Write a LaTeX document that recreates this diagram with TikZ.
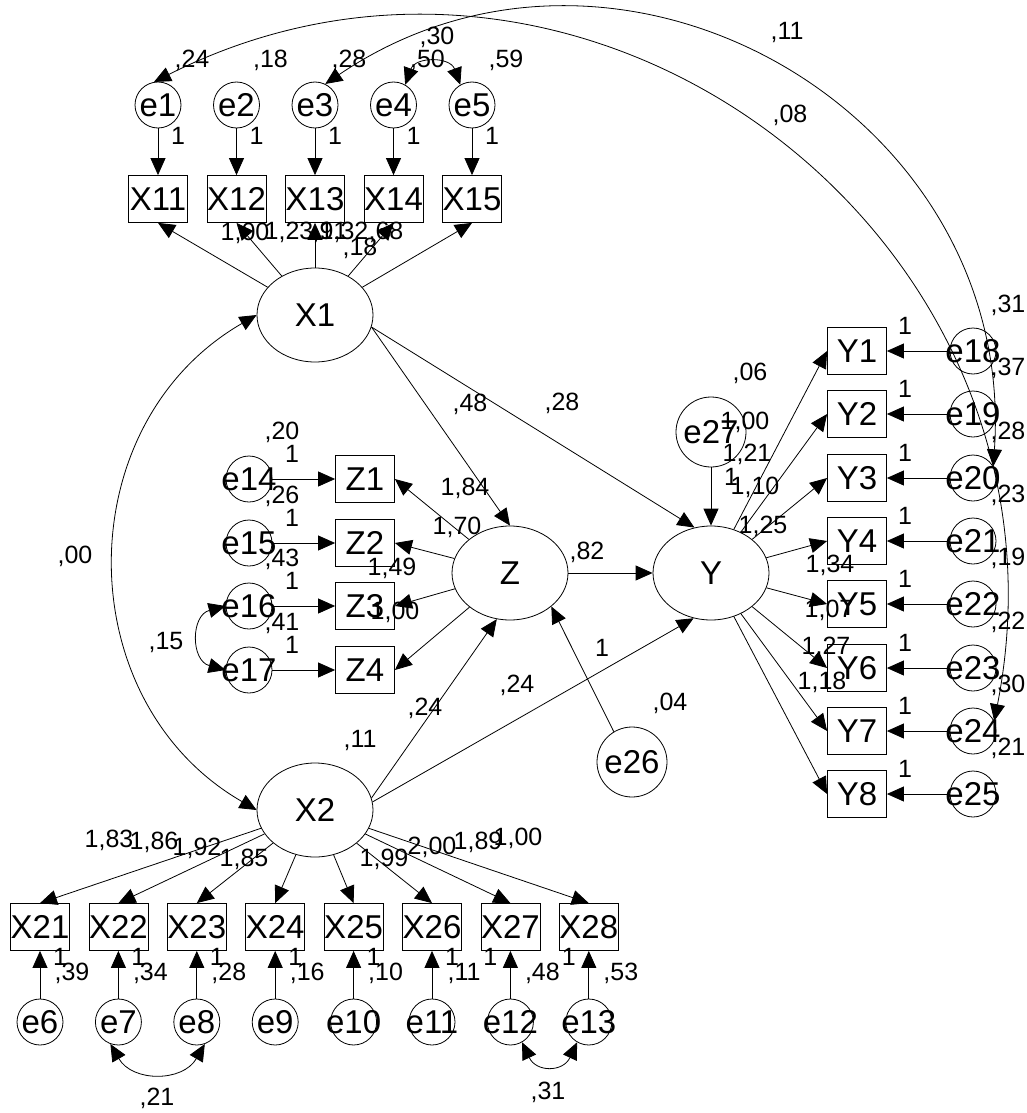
\documentclass[tikz,border=0pt]{standalone}
\usepackage{fontspec}
\setmainfont{Liberation Sans}
\usetikzlibrary{positioning,arrows.meta,shapes.geometric}
\newcommand\nodefont{\fontsize{33}{37}\selectfont}
\newcommand\labfont{\fontsize{25}{28}\selectfont}
\tikzset{
  obs/.style={rectangle,draw,minimum width=59pt,minimum height=47pt,inner sep=0pt,font=\nodefont},
  lat/.style={ellipse,draw,minimum width=116pt,minimum height=94pt,inner sep=0pt,font=\nodefont},
  err/.style={circle,draw,minimum size=46pt,inner sep=0pt,
    label={[font=\nodefont,inner sep=0pt]center:#1}},
  disturb/.style={circle,draw,minimum size=70pt,inner sep=0pt,font=\nodefont},
  reg/.style={-{Triangle[length=17pt,width=15pt]},line width=0.8pt},
  cov/.style={{Triangle[length=17pt,width=15pt]}-{Triangle[length=17pt,width=15pt]},line width=0.8pt},
  lab/.style={font=\labfont,inner sep=0pt},
}

\begin{document}
\begin{tikzpicture}[x=1pt,y=1pt,line width=0.8pt]
  \useasboundingbox (0,0) rectangle (1027,-1113);
  % latent variables and disturbances
  \node[lat] (X1) at (315,-315) {X1};
  \node[lat] (X2) at (315,-810) {X2};
  \node[lat] (Z) at (510,-573) {Z};
  \node[lat] (Y) at (711,-573) {Y};
  \node[disturb] (e26) at (632,-762) {e26};
  \node[disturb] (e27) at (711,-432) {e27};

  % X1 indicators
  \foreach \k/\x/\v in {1/158/{,24},2/236.5/{,18},3/315/{,28},4/393.5/{,50},5/472/{,59}}{
    \node[obs] (X1\k) at (\x,-199) {X1\k};
    \node[err=e\k] (e\k) at (\x,-105) {};
    \draw[reg] (e\k) -- (X1\k);
    \draw[reg] (X1) -- (X1\k.south);
    \node[lab] (o\k) at (\x+20,-136) {1};
    \node[lab] (v\k) at (\x+34,-60) {\v};
  }

  % X2 indicators
  \foreach \k/\x/\o/\v in {1/40/20/{,39},2/118.4/20/{,34},3/196.8/20/{,28},4/275.2/20/{,16},
      5/353.6/20/{,10},6/432/20/{,11},7/510.4/-20/{,48},8/588.8/-20/{,53}}{
    \pgfmathtruncatemacro{\e}{\k+5}
    \node[obs] (X2\k) at (\x,-927) {X2\k};
    \node[err=e\e] (e\e) at (\x,-1022) {};
    \draw[reg] (e\e) -- (X2\k);
    \draw[reg] (X2) -- (X2\k.north);
    \node[lab] (o\e) at (\x+\o,-957) {1};
    \node[lab] (v\e) at (\x+32,-973) {\v};
  }

  % Z indicators
  \foreach \k/\y/\v in {1/479/{,20},2/543/{,26},3/606/{,43},4/670/{,41}}{
    \pgfmathtruncatemacro{\e}{\k+13}
    \node[obs] (Z\k) at (365,-\y) {Z\k};
    \node[err=e\e] (e\e) at (249,-\y) {};
    \draw[reg] (e\e) -- (Z\k);
    \draw[reg] (Z) -- (Z\k.east);
    \node[lab] (o\e) at (292,-\y+25) {1};
    \node[lab] (v\e) at (282,-\y+47) {\v};
  }

  % Y indicators
  \foreach \k/\y/\v in {1/351/{,31},2/414/{,37},3/478/{,28},4/541/{,23},
      5/604/{,19},6/668/{,22},7/731/{,30},8/794/{,21}}{
    \pgfmathtruncatemacro{\e}{\k+17}
    \node[obs] (Y\k) at (857,-\y) {Y\k};
    \node[err=e\e] (e\e) at (973,-\y) {};
    \draw[reg] (e\e) -- (Y\k);
    \draw[reg] (Y) -- (Y\k.west);
    \node[lab] (o\e) at (905,-\y+25) {1};
    \node[lab] (v\e) at (1008,-\y+46) {\v};
  }

  % structural paths
  \draw[reg] (X1.-12) -- (Z.north);
  \draw[reg] (X1.-12) -- (Y.110);
  \draw[reg] (X2.12) -- (Z.-106);
  \draw[reg] (X2.8) -- (Y.-111);
  \draw[reg] (Z) -- (Y);
  \draw[reg] (e27) -- (Y);
  \draw[reg] (e26.121) -- (Z.-39);

  % covariances
  \draw[cov] (X1.west) to[bend right=60,looseness=1.13] (X2.west);
  \draw[cov] (e16.west) to[bend right=75,looseness=1.45] (e17.west);
  \draw[cov] (e4.60) to[bend left=70,looseness=1.4] (e5.120);
  \draw[cov] (e7.250) to[bend right=60,looseness=1.2] (e8.290);
  \draw[cov] (e12.-60) to[bend right=65,looseness=1.55] (e13.-120);
  \draw[cov] (e1.100) to[out=26.7,in=78.9,looseness=1.183] (e24.25);
  \draw[cov] (e3.64) to[out=34.1,in=86.1,looseness=1.183] (e20.30);

  % estimates
  \node[lab] (lx1a) at (245,-233) {1,00};
  \node[lab] (lx1b) at (289,-232) {1,23};
  \node[lab] (lx1c) at (330,-232) {,91};
  \node[lab] (lx1d) at (344,-232) {1,32};
  \node[lab] (lx1e) at (386,-232) {,68};
  \node[lab] (vX1) at (360,-248) {,18};
  \node[lab] (c45) at (437,-37) {,30};
  \node[lab] (c320) at (787,-33) {,11};
  \node[lab] (c124) at (790,-115) {,08};

  \node[lab] (lz1) at (465,-488) {1,84};
  \node[lab] (lz2) at (457,-527) {1,70};
  \node[lab] (lz3) at (392,-568) {1,49};
  \node[lab] (lz4) at (395,-612) {1,00};
  \node[lab] (bx1z) at (470,-404) {,48};
  \node[lab] (bx1y) at (562,-403) {,28};
  \node[lab] (bzy) at (587,-552) {,82};
  \node[lab] (bx2z) at (425,-708) {,24};
  \node[lab] (bx2y) at (517,-685) {,24};
  \node[lab] (o26) at (602,-648) {1};
  \node[lab] (v26) at (670,-703) {,04};
  \node[lab] (o27) at (731,-477) {1};
  \node[lab] (v27) at (750,-373) {,06};

  \node[lab] (ly1) at (745,-422) {1,00};
  \node[lab] (ly2) at (747,-454) {1,21};
  \node[lab] (ly3) at (755,-487) {1,10};
  \node[lab] (ly4) at (763,-526) {1,25};
  \node[lab] (ly5) at (830,-565) {1,34};
  \node[lab] (ly6) at (829,-610) {1,07};
  \node[lab] (ly7) at (826,-647) {1,27};
  \node[lab] (ly8) at (822,-682) {1,18};

  \node[lab] (cx12) at (75,-556) {,00};
  \node[lab] (c1617) at (166,-642) {,15};
  \node[lab] (vX2) at (360,-740) {,11};
  \node[lab] (lx2a) at (109,-840) {1,83};
  \node[lab] (lx2b) at (154,-842) {1,86};
  \node[lab] (lx2c) at (197,-848) {1,92};
  \node[lab] (lx2d) at (244,-859) {1,85};
  \node[lab] (lx2e) at (384,-859) {1,99};
  \node[lab] (lx2f) at (432,-847) {2,00};
  \node[lab] (lx2g) at (478,-842) {1,89};
  \node[lab] (lx2h) at (518,-838) {1,00};
  \node[lab] (c78) at (157,-1098) {,21};
  \node[lab] (c1213) at (548,-1092) {,31};
\end{tikzpicture}
\end{document}
